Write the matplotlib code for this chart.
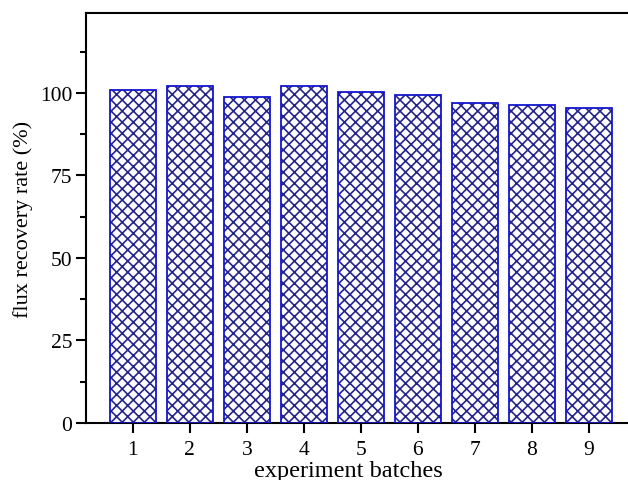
import numpy as np
import matplotlib.pyplot as plt
from matplotlib.ticker import MultipleLocator

plt.rcParams['font.family'] = ['Liberation Serif', 'DejaVu Serif']
plt.rcParams['hatch.linewidth'] = 1.2

# datos
batches = [1, 2, 3, 4, 5, 6, 7, 8, 9]
recovery = [100.9, 102.2, 98.7, 102.2, 100.4, 99.4, 97.0, 96.2, 95.5]
yticks = [0, 25, 50, 75, 100]

fig = plt.figure(figsize=(6.28, 4.81), dpi=100)
ax = fig.add_axes([86/628, 57/481, 560/628, 410/481])

# relleno con trama y luego el borde azul
ax.bar(batches, recovery, width=0.8, color='white', edgecolor='#25258a',
       linewidth=0, hatch='xxx', zorder=2)
ax.bar(batches, recovery, width=0.8, fill=False, edgecolor='#1515d0',
       linewidth=1.3, zorder=3)

ax.set_xlim(0.18, 10.0)
ax.set_ylim(0, 124.2)
ax.set_xticks(batches)
ax.set_yticks(yticks)
ax.yaxis.set_minor_locator(MultipleLocator(12.5))

ax.spines['right'].set_visible(False)
for s in ['left', 'bottom', 'top']:
    ax.spines[s].set_linewidth(1.5)

ax.tick_params(axis='both', which='major', direction='out', length=7, width=1.5,
               labelsize=15.5)
ax.tick_params(axis='x', which='major', pad=5)
ax.tick_params(axis='y', which='major', pad=3)
ax.tick_params(axis='y', which='minor', direction='out', length=4, width=1.5)

ax.set_xlabel("experiment batches", fontsize=17.5, labelpad=1, x=0.468)
ax.set_ylabel("flux recovery rate (%)", fontsize=16, labelpad=5)

fig.savefig("out.png", dpi=100)
